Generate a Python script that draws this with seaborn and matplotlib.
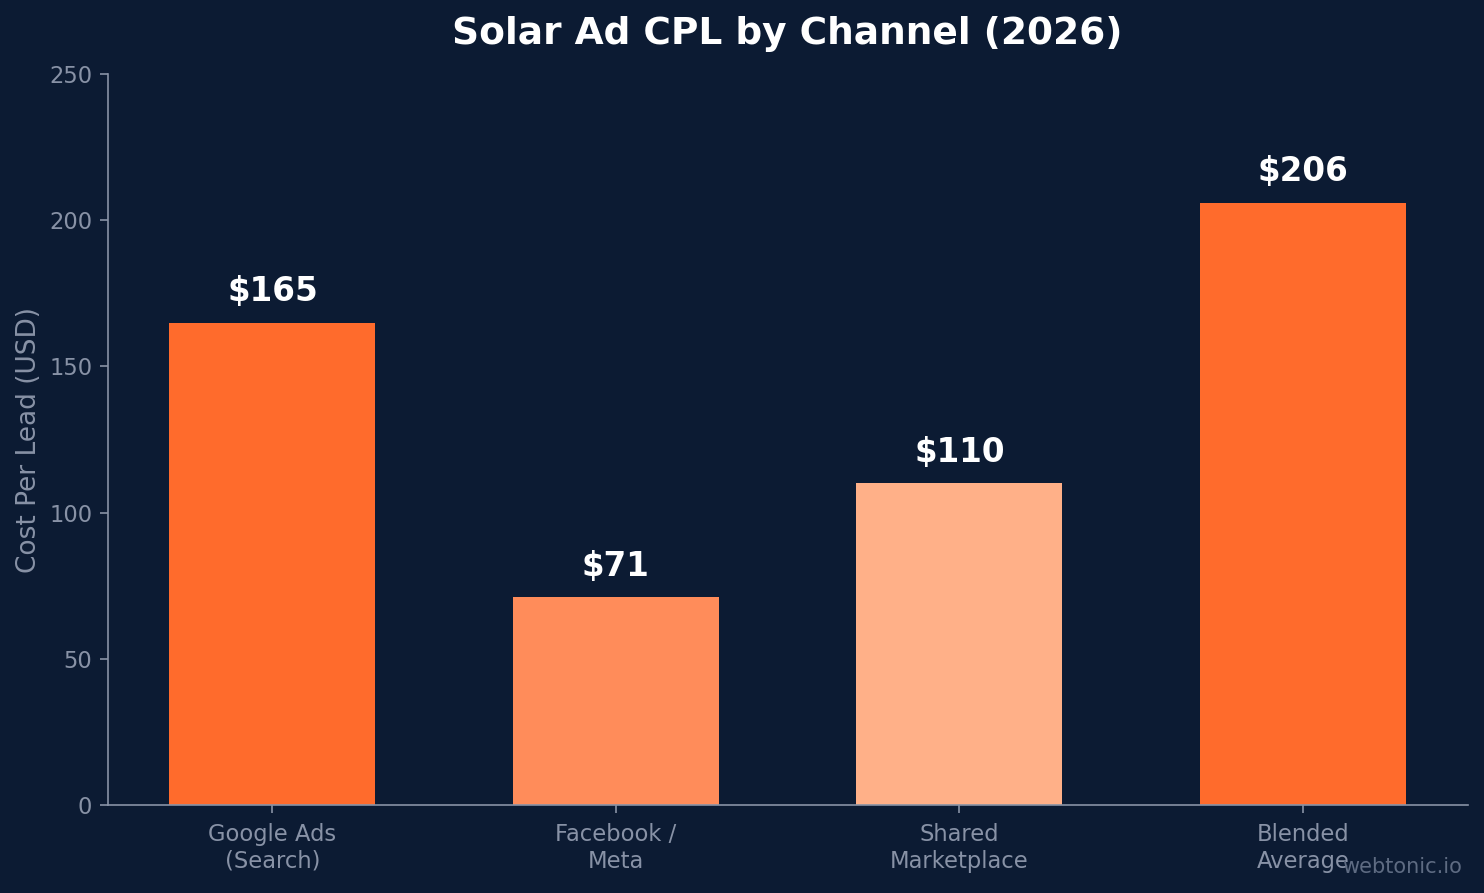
import matplotlib
matplotlib.use("Agg")
import matplotlib.pyplot as plt
import seaborn as sns
import pandas as pd

categories = ["Google Ads\n(Search)", "Facebook /\nMeta", "Shared\nMarketplace", "Blended\nAverage"]
values = [165, 71, 110, 206]
labels = ["$165", "$71", "$110", "$206"]
bar_colors = ["#FF6B2C", "#FF8C5A", "#FFB088", "#FF6B2C"]

BG = "#0C1B33"
AX = "#8892A6"

sns.set_theme(style="white")
plt.rcParams["font.family"] = ["DejaVu Sans"]

fig = plt.figure(figsize=(14.84, 8.93), dpi=100, facecolor=BG)
ax = fig.add_axes([0.0725, 0.0985, 0.9165, 0.8185])
ax.set_facecolor(BG)

df = pd.DataFrame({"cat": categories, "val": values})
sns.barplot(data=df, x="cat", y="val", hue="cat", palette=bar_colors, legend=False,
            width=0.6, ax=ax, saturation=1, linewidth=0, edgecolor="none")

for i, (v, t) in enumerate(zip(values, labels)):
    ax.text(i, v + 5, t, ha="center", va="bottom", color="white", fontsize=23.5, fontweight="bold")

ax.set_xlim(-0.48, 3.48)
ax.set_ylim(0, 250)
ax.set_yticks([0, 50, 100, 150, 200, 250])
ax.set_xlabel("")
ax.set_ylabel("Cost Per Lead (USD)", color=AX, fontsize=19, labelpad=5)
ax.tick_params(axis="both", colors=AX, labelsize=16.3, length=6, width=1.2, bottom=True, left=True, pad=5)
ax.tick_params(axis="x", pad=7)
for s in ["top", "right"]:
    ax.spines[s].set_visible(False)
for s in ["left", "bottom"]:
    ax.spines[s].set_color(AX)
    ax.spines[s].set_linewidth(1.2)

ax.set_title("Solar Ad CPL by Channel (2026)", color="white", fontsize=27, fontweight="bold", pad=22)

fig.text(0.985, 0.018, "webtonic.io", ha="right", va="bottom", color="#5E6B82", fontsize=15)

fig.savefig("out.png", dpi=100, facecolor=BG)
